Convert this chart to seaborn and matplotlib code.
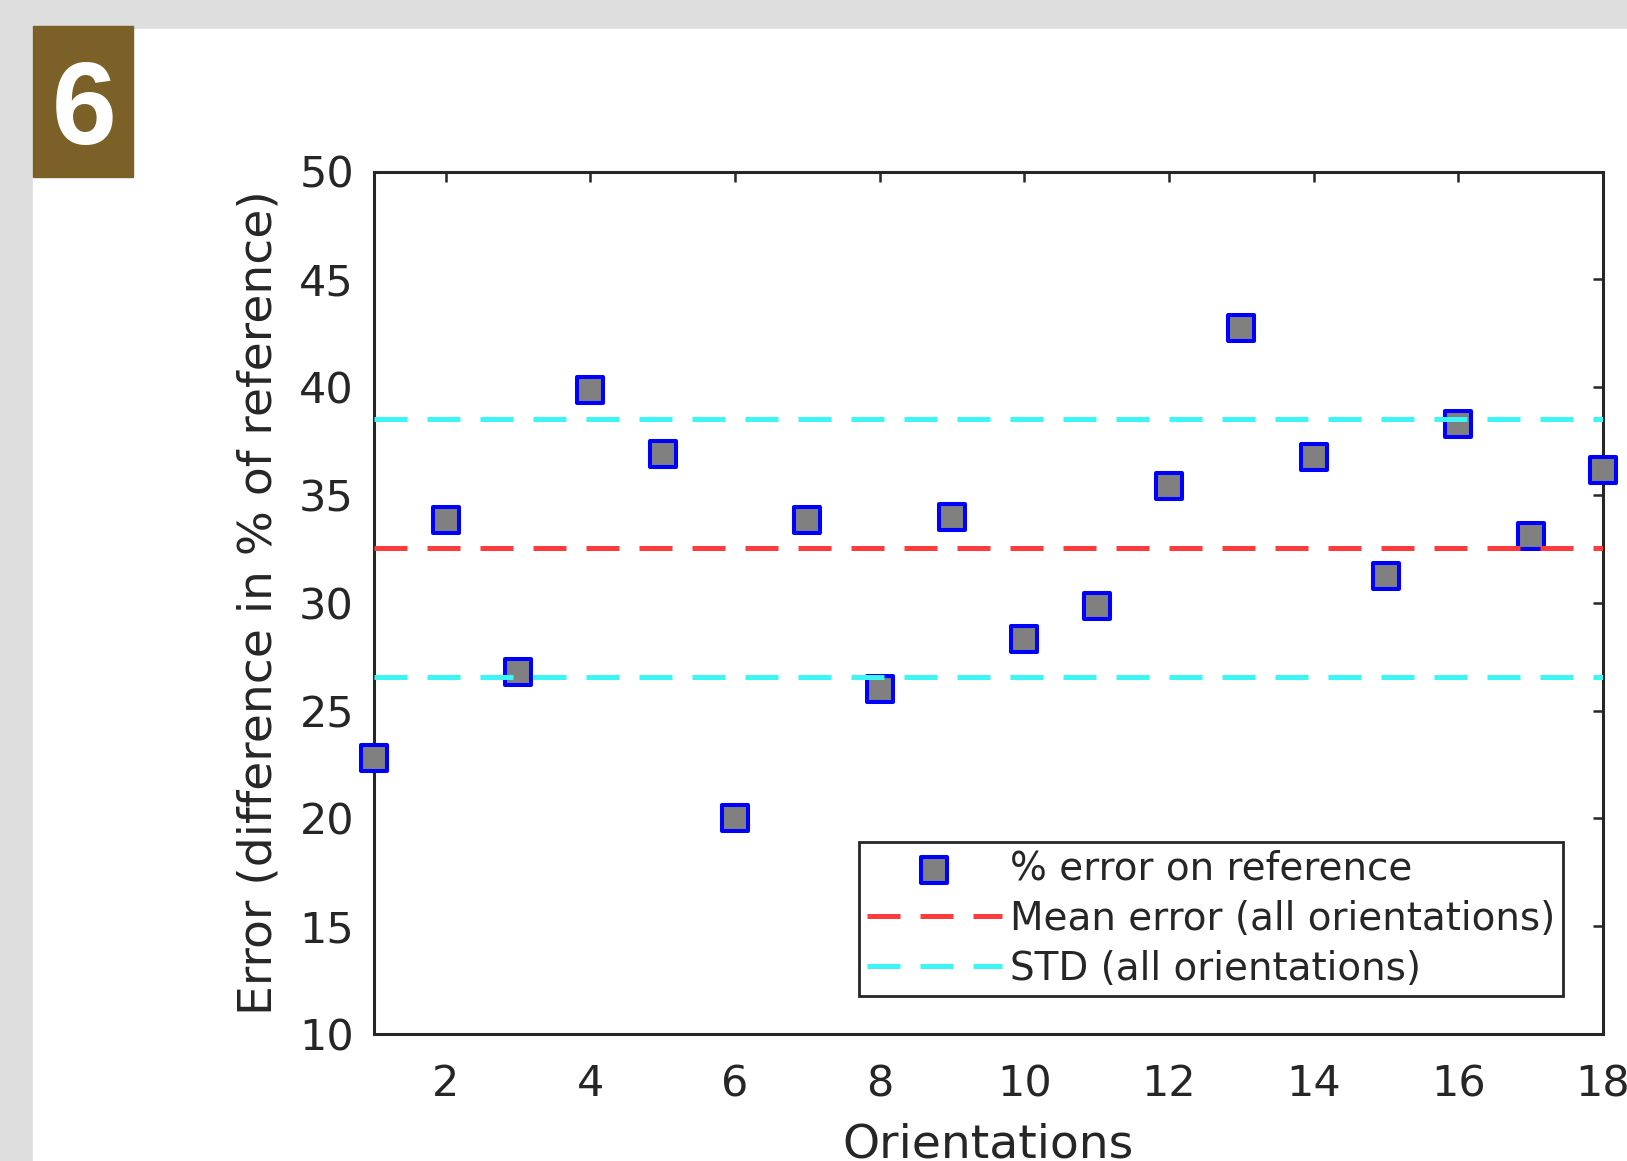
import numpy as np
import matplotlib
matplotlib.use('Agg')
import matplotlib.pyplot as plt
from matplotlib.patches import Rectangle
import seaborn as sns

sns.set_theme(style='white')
plt.rcParams['font.family'] = ['DejaVu Sans']

# ── data ──────────────────────────────────────────────────────────────────────
orientations = list(range(1, 19))
pct_error = [22.8, 33.85, 26.8, 39.85, 36.9, 20.0, 33.85, 26.0, 34.0,
             28.3, 29.85, 35.4, 42.75, 36.75, 31.25, 38.3, 33.1, 36.15]
x_ticks = list(range(2, 19, 2))
y_ticks = list(range(10, 51, 5))
legend_labels = ['% error on reference', 'Mean error (all orientations)', 'STD (all orientations)']

mean_err = np.mean(pct_error)
std_err = np.std(pct_error, ddof=1)

TXT = '#262626'
W, H = 1627, 1161

fig = plt.figure(figsize=(W / 100, H / 100), dpi=100, facecolor='#dedede')
# white panel + numbered badge
fig.patches.append(Rectangle((33 / W, 0), 1 - 33 / W, (H - 29) / H,
                             transform=fig.transFigure, color='white', zorder=-2))
fig.patches.append(Rectangle((33 / W, 1 - 177 / H), 100 / W, 151 / H,
                             transform=fig.transFigure, color='#7b6128', zorder=-1))
fig.text(84 / W, 1 - 144 / H, '6', color='white', fontsize=84, fontweight='bold',
         family=['Liberation Sans', 'DejaVu Sans'], ha='center', va='baseline')

ax = fig.add_axes([373.5 / W, 127 / H, 1229.5 / W, 862.5 / H])
ax.set_zorder(2)
ax.set_facecolor('white')

sns.scatterplot(x=orientations, y=pct_error, marker='s', s=360, color='#808080',
                edgecolor='#0000ff', linewidth=2.9, ax=ax, zorder=3, clip_on=False)
pts = ax.collections[0]

dash = (6.6, 4.0)
l_mean = ax.axhline(mean_err, color='#ff3b3b', lw=3.6, dashes=dash, zorder=4)
l_std = ax.axhline(mean_err + std_err, color='#3cf5f5', lw=3.6, dashes=dash, zorder=4)
ax.axhline(mean_err - std_err, color='#3cf5f5', lw=3.6, dashes=dash, zorder=4)

ax.set_xlim(1, 18)
ax.set_ylim(10, 50)
ax.set_xticks(x_ticks)
ax.set_yticks(y_ticks)

for sp in ax.spines.values():
    sp.set_visible(True)
    sp.set_color(TXT)
    sp.set_linewidth(2.2)
ax.tick_params(direction='in', length=7, width=1.8, colors=TXT, labelsize=31,
               top=True, right=True)
ax.tick_params(axis='y', pad=14)
ax.tick_params(axis='x', pad=21)

ax.set_xlabel('Orientations', fontsize=34, color=TXT)
ax.set_ylabel('Error (difference in % of reference)', fontsize=34, color=TXT)
ax.xaxis.set_label_coords(0.5, -0.103)
ax.yaxis.set_label_coords(-0.075, 0.5)

leg = ax.legend([pts, l_mean, l_std], legend_labels, loc='upper left',
                bbox_to_anchor=(0.395, 0.2226), borderaxespad=0, fontsize=28,
                frameon=True, fancybox=False, edgecolor=TXT, framealpha=1,
                handlelength=3.47, handletextpad=0.2, labelspacing=0.31,
                borderpad=0.2)
leg.get_frame().set_linewidth(2)
for t in leg.get_texts():
    t.set_color(TXT)

plt.savefig('out.png', dpi=100, facecolor=fig.get_facecolor())
plt.close()
